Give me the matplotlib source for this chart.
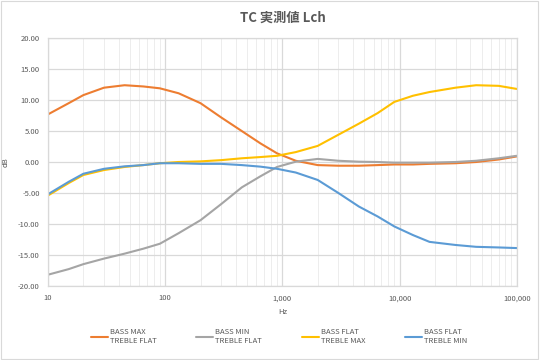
import numpy as np
import matplotlib
matplotlib.use('Agg')
import matplotlib.pyplot as plt
from matplotlib.ticker import FuncFormatter, LogLocator, NullFormatter

plt.rcParams['font.family'] = ['Noto Sans CJK JP', 'DejaVu Sans']

# frequencies (Hz)
freq = [10, 15, 20, 30, 45, 65, 90, 130, 200, 300, 450, 650, 900, 1300, 2000,
        3000, 4500, 6500, 9000, 13000, 18000, 30000, 45000, 70000, 100000]

# response values (dB)
bass_max = [7.7, 9.5, 10.8, 12.0, 12.4, 12.2, 11.9, 11.1, 9.5, 7.2, 5.0, 3.0, 1.4,
            0.2, -0.5, -0.6, -0.6, -0.5, -0.4, -0.4, -0.3, -0.2, 0.0, 0.4, 0.9]
bass_min = [-18.2, -17.3, -16.5, -15.6, -14.8, -14.0, -13.2, -11.5, -9.4, -6.8, -4.1, -2.3, -0.8,
            0.05, 0.5, 0.2, 0.05, 0.0, -0.1, -0.1, -0.1, 0.0, 0.2, 0.6, 1.0]
treble_max = [-5.4, -3.4, -2.1, -1.3, -0.8, -0.5, -0.2, 0.0, 0.1, 0.3, 0.6, 0.8, 1.0,
              1.6, 2.6, 4.4, 6.2, 7.9, 9.7, 10.7, 11.3, 12.0, 12.4, 12.3, 11.8]
treble_min = [-5.2, -3.2, -1.9, -1.1, -0.7, -0.5, -0.2, -0.2, -0.3, -0.3, -0.5, -0.75, -1.1,
              -1.7, -2.9, -5.0, -7.2, -8.8, -10.4, -11.8, -12.9, -13.4, -13.7, -13.8, -13.9]

labels = ['BASS MAX\nTREBLE FLAT', 'BASS MIN\nTREBLE FLAT',
          'BASS FLAT\nTREBLE MAX', 'BASS FLAT\nTREBLE MIN']
colors = ['#ED7D31', '#A5A5A5', '#FFC000', '#5B9BD5']
series = [bass_max, bass_min, treble_max, treble_min]

txt = '#595959'
fig = plt.figure(figsize=(5.4, 3.6), dpi=100)
ax = fig.add_axes([0.089, 0.206, 0.868, 0.688])

for vals, lab, col in zip(series, labels, colors):
    ax.plot(freq, vals, color=col, lw=1.5, label=lab, solid_capstyle='round',
            solid_joinstyle='round')

ax.set_xscale('log')
ax.set_xlim(10, 100000)
ax.set_ylim(-20, 20)
ax.set_yticks(np.arange(-20, 21, 5))
ax.yaxis.set_major_formatter(FuncFormatter(lambda v, p: '%.2f' % v))
ax.xaxis.set_major_locator(LogLocator(base=10))
ax.xaxis.set_minor_locator(LogLocator(base=10, subs=np.arange(2, 10)))
ax.xaxis.set_minor_formatter(NullFormatter())
ax.xaxis.set_major_formatter(FuncFormatter(lambda v, p: '{:,.0f}'.format(v)))

ax.grid(True, which='major', color='#D9D9D9', lw=0.9)
ax.grid(True, which='minor', axis='x', color='#EDEDED', lw=0.7)
ax.set_axisbelow(True)
for s in ax.spines.values():
    s.set_color('#D9D9D9')
    s.set_linewidth(0.9)
ax.tick_params(which='both', length=0, labelsize=5.5, labelcolor=txt, pad=6)

ax.set_xlabel('Hz', fontsize=5.5, color=txt, labelpad=4)
ax.set_ylabel('dB', fontsize=5.5, color=txt, labelpad=6)
ax.set_title('TC 実測値 Lch', fontsize=9.5, color=txt, fontweight='bold', pad=12)

fig.legend(loc='center', bbox_to_anchor=(0.517, 0.066), ncol=4, frameon=False,
           fontsize=5.5, labelcolor=txt, handlelength=2.2, handletextpad=0.3,
           columnspacing=5.2)

fig.add_artist(plt.Rectangle((0.002, 0.002), 0.994, 0.994, transform=fig.transFigure,
                             fill=False, edgecolor='#D9D9D9', lw=0.8))

fig.savefig('out.png', dpi=100)
